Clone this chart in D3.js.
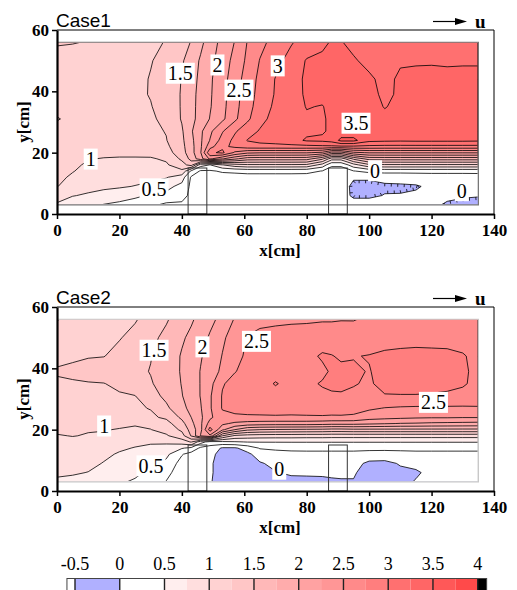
<!DOCTYPE html>
<html>
<head>
<meta charset="utf-8">
<script src="https://cdn.jsdelivr.net/npm/d3@7"></script>
<style>
  body { margin: 0; background: #fff; }
  svg { display: block; }
</style>
</head>
<body>
<svg id="chart" width="517" height="590"></svg>
<script>
// measurement grid (cm)
const xGrid = [0, 5, 10, 15, 20, 25, 30, 35, 40, 43, 46, 49, 53, 57, 61, 65, 70, 75, 80, 85, 88, 91, 95, 100, 105, 110, 115, 120, 125, 130, 135];
const yGrid = [56, 50, 44, 39, 35, 31, 27, 24, 22, 20, 18, 16, 14, 12, 9, 6, 3];

// u values, one row per yGrid entry
const case1Values = [
  [1.27,1.26,1.24,1.2,1.18,1.19,1.21,1.26,1.42,1.51,1.69,1.87,2.08,2.26,2.51,2.68,2.84,2.98,3.1,3.2,3.27,3.26,3.2,3.15,3.15,3.18,3.2,3.21,3.2,3.22,3.22],
  [1.17,1.16,1.16,1.16,1.17,1.19,1.24,1.31,1.47,1.62,1.78,1.93,2.12,2.33,2.55,2.76,2.93,3.08,3.27,3.3,3.32,3.3,3.27,3.2,3.18,3.23,3.23,3.23,3.22,3.23,3.23],
  [1.15,1.15,1.15,1.16,1.17,1.2,1.26,1.34,1.51,1.65,1.81,1.96,2.16,2.38,2.61,2.81,3.01,3.15,3.29,3.32,3.33,3.33,3.32,3.28,3.2,3.28,3.3,3.31,3.31,3.3,3.3],
  [1.15,1.15,1.15,1.16,1.18,1.21,1.26,1.35,1.52,1.68,1.82,1.97,2.17,2.4,2.64,2.83,3.02,3.16,3.28,3.31,3.33,3.34,3.34,3.31,3.21,3.28,3.32,3.33,3.33,3.33,3.32],
  [1.15,1.15,1.15,1.16,1.18,1.21,1.24,1.34,1.52,1.68,1.83,1.98,2.18,2.42,2.66,2.86,3.05,3.15,3.26,3.24,3.31,3.34,3.35,3.33,3.24,3.3,3.33,3.34,3.34,3.34,3.33],
  [1.27,1.18,1.16,1.16,1.17,1.19,1.22,1.3,1.52,1.68,1.84,2.01,2.2,2.45,2.7,2.93,3.08,3.15,3.22,3.22,3.3,3.34,3.35,3.34,3.3,3.32,3.34,3.34,3.34,3.34,3.34],
  [1.15,1.14,1.14,1.14,1.15,1.17,1.2,1.26,1.47,1.72,1.95,2.2,2.48,2.72,2.9,3.02,3.1,3.14,3.2,3.22,3.3,3.36,3.36,3.33,3.29,3.27,3.3,3.32,3.32,3.32,3.31],
  [1.14,1.13,1.13,1.12,1.13,1.15,1.17,1.24,1.45,1.68,1.96,2.26,2.6,2.82,3.01,3.06,3.1,3.16,3.28,3.3,3.35,3.56,3.56,3.32,3.3,3.29,3.3,3.3,3.3,3.3,3.29],
  [1.13,1.11,1.1,1.09,1.09,1.1,1.12,1.2,1.43,1.66,1.96,2.4,2.7,2.8,2.9,2.92,2.92,2.93,2.93,2.95,2.95,2.96,2.96,2.94,2.93,2.93,2.93,2.93,2.93,2.93,2.93],
  [1.12,1.09,1.06,1.05,1.05,1.05,1.06,1.14,1.4,1.65,1.98,2.7,2.8,2.45,2.3,2.27,2.27,2.27,2.27,2.2,1.9,1.9,2.2,2.27,2.27,2.27,2.27,2.27,2.27,2.27,2.27],
  [1.1,1.06,1.01,0.99,0.98,0.98,0.98,1.03,1.3,1.58,1.9,2.3,2.02,1.8,1.62,1.61,1.61,1.61,1.6,1.3,0.85,0.85,1.3,1.6,1.61,1.61,1.61,1.61,1.61,1.61,1.61],
  [1.08,1.04,0.97,0.96,0.95,0.94,0.94,0.97,1.15,1.35,0.6,0.49,0.74,0.9,0.96,0.96,0.96,0.96,0.95,0.65,0.3,0.3,0.65,0.95,0.96,0.96,0.96,0.96,0.96,0.96,0.96],
  [1.07,1.01,0.94,0.91,0.9,0.89,0.88,0.87,0.95,0.45,0.22,0.22,0.28,0.3,0.33,0.33,0.33,0.33,0.32,0.24,0.12,0.12,0.24,0.32,0.33,0.33,0.33,0.33,0.33,0.33,0.33],
  [1.05,0.97,0.9,0.87,0.86,0.84,0.8,0.77,0.62,0.22,0.18,0.16,0.15,0.15,0.15,0.15,0.15,0.15,0.15,0.14,0.12,0.12,0.03,0.04,0.08,0.08,0.1,0.12,0.12,0.12,0.13],
  [1.01,0.88,0.82,0.8,0.78,0.74,0.7,0.58,0.42,0.2,0.15,0.14,0.12,0.12,0.12,0.12,0.12,0.12,0.12,0.12,0.12,0.12,-0.06,-0.08,-0.04,-0.03,-0.02,0.04,0.08,0.08,0.08],
  [0.85,0.76,0.72,0.66,0.6,0.55,0.47,0.43,0.35,0.18,0.14,0.12,0.1,0.1,0.1,0.1,0.1,0.1,0.1,0.1,0.1,0.1,-0.04,-0.04,0.01,0.01,0.03,0.05,0.05,0.02,0.01],
  [0.72,0.62,0.55,0.49,0.45,0.38,0.3,0.2,0.2,0.15,0.12,0.1,0.08,0.08,0.08,0.08,0.08,0.08,0.08,0.08,0.08,0.08,0.1,0.1,0.08,0.06,0.05,0.05,-0.03,-0.05,-0.06]
];

const case2Values = [
  [0.99,1.05,1.1,1.14,1.19,1.235,1.32,1.47,1.65,1.72,1.82,1.93,2.08,2.27,2.42,2.45,2.46,2.47,2.47,2.48,2.48,2.49,2.49,2.53,2.55,2.56,2.57,2.57,2.57,2.57,2.57],
  [1.12,1.14,1.17,1.2,1.24,1.3,1.43,1.57,1.72,1.8,1.9,2.03,2.21,2.36,2.51,2.55,2.57,2.58,2.6,2.62,2.62,2.61,2.6,2.62,2.64,2.65,2.66,2.66,2.66,2.65,2.63],
  [1.2,1.22,1.24,1.245,1.3,1.38,1.49,1.61,1.77,1.85,1.98,2.09,2.26,2.43,2.54,2.6,2.62,2.64,2.68,2.78,2.76,2.72,2.74,2.76,2.8,2.82,2.83,2.82,2.81,2.77,2.68],
  [1.27,1.29,1.31,1.34,1.38,1.44,1.51,1.63,1.77,1.88,2.01,2.13,2.3,2.49,2.57,2.6,2.64,2.66,2.68,2.7,2.78,2.8,2.78,2.74,2.82,2.84,2.84,2.83,2.82,2.78,2.7],
  [1.22,1.23,1.24,1.245,1.29,1.38,1.48,1.6,1.76,1.87,2.01,2.17,2.48,2.58,2.61,2.64,2.77,2.66,2.7,2.77,2.78,2.79,2.76,2.73,2.8,2.82,2.82,2.82,2.8,2.77,2.7],
  [1.17,1.18,1.2,1.21,1.23,1.245,1.4,1.56,1.74,1.86,2.01,2.22,2.52,2.58,2.6,2.61,2.65,2.62,2.66,2.7,2.73,2.73,2.72,2.71,2.74,2.74,2.74,2.73,2.72,2.7,2.67],
  [1.12,1.14,1.16,1.18,1.2,1.22,1.26,1.45,1.68,1.82,1.98,2.22,2.52,2.56,2.57,2.58,2.6,2.58,2.6,2.62,2.62,2.63,2.6,2.54,2.49,2.47,2.46,2.46,2.46,2.46,2.47],
  [1.09,1.11,1.13,1.15,1.16,1.18,1.21,1.29,1.55,1.75,1.95,2.2,2.42,2.46,2.47,2.47,2.47,2.47,2.47,2.47,2.46,2.46,2.45,2.35,2.32,2.3,2.28,2.27,2.27,2.26,2.26],
  [1.06,1.07,1.07,1.06,1.04,1.02,1.05,1.16,1.42,1.68,1.95,2.35,2.3,2.2,2.15,2.13,2.12,2.12,2.12,2.1,2.08,2.08,2.08,2.05,2.02,1.99,1.98,1.96,1.95,1.94,1.93],
  [1.03,1.02,1.01,1.01,0.99,0.97,0.995,1.08,1.3,1.6,1.92,2.6,2.05,1.75,1.55,1.5,1.48,1.47,1.46,1.45,1.43,1.43,1.45,1.45,1.45,1.45,1.45,1.45,1.45,1.45,1.45],
  [0.99,1.005,0.99,0.97,0.93,0.9,0.92,0.97,1.15,1.52,2.02,2.2,1.25,0.95,0.9,0.88,0.87,0.87,0.86,0.86,0.85,0.85,0.85,0.85,0.85,0.85,0.85,0.85,0.85,0.85,0.85],
  [0.96,0.96,0.93,0.88,0.83,0.8,0.78,0.8,0.88,1.02,0.6,0.4,0.45,0.48,0.51,0.51,0.51,0.51,0.51,0.51,0.51,0.51,0.51,0.51,0.51,0.51,0.51,0.51,0.51,0.51,0.51],
  [0.93,0.92,0.9,0.85,0.78,0.74,0.7,0.65,0.52,0.45,0.2,0.15,-0.03,-0.03,0.1,0.27,0.3,0.32,0.32,0.32,0.32,0.32,0.32,0.32,0.32,0.32,0.32,0.32,0.32,0.32,0.32],
  [0.9,0.88,0.85,0.79,0.73,0.68,0.63,0.56,0.27,0.15,0.1,0.08,-0.1,-0.1,-0.05,0.1,0.15,0.17,0.18,0.18,0.18,0.18,0.18,0.15,0.14,0.16,0.18,0.18,0.18,0.18,0.18],
  [0.85,0.82,0.8,0.74,0.66,0.6,0.58,0.44,0.15,0.1,0.07,0.05,-0.15,-0.15,-0.1,-0.02,0.05,0.08,0.1,0.1,0.1,0.1,0.08,-0.05,-0.06,0.02,0.04,0.06,0.07,0.07,0.07],
  [0.8,0.77,0.745,0.7,0.6,0.55,0.45,0.33,0.1,0.08,0.06,0.05,-0.15,-0.15,-0.12,-0.08,-0.01,0.03,0.03,0.03,0.04,0.04,0.02,-0.08,-0.08,-0.05,-0.02,0.04,0.05,0.05,0.05],
  [0.7,0.7,0.68,0.62,0.53,0.47,0.38,0.24,0.08,0.06,0.05,0.03,-0.15,-0.15,-0.12,-0.1,-0.08,-0.06,-0.05,-0.04,-0.03,-0.02,-0.01,-0.08,-0.06,-0.04,0.01,0.05,0.05,0.05,0.05]
];

// contour levels
const fillLevels = [-0.5, 0, 0.5, 0.75, 1, 1.25, 1.5, 1.75, 2, 2.25, 2.5, 2.75, 3, 3.25, 3.5, 3.75, 4];
const lineLevels = [0, 0.25, 0.5, 0.75, 1, 1.25, 1.5, 1.75, 2, 2.25, 2.5, 2.75, 3, 3.25, 3.5, 3.75, 4];
const legendTicks = [-0.5, 0, 0.5, 1, 1.5, 2, 2.5, 3, 3.5, 4];
const xTicks = [0, 20, 40, 60, 80, 100, 120, 140];
const yTicks = [0, 20, 40, 60];

// obstacles: x from, x to, height
const blocks = [[42, 48, 15], [87, 93, 15]];

// contour labels [text, x, y]
const case1Labels = [
  ['1.5', 39.5, 45.9], ['2', 51.4, 48.6], ['2.5', 58.3, 40.4], ['3', 70.7, 48.3],
  ['3.5', 95.8, 29.6], ['1', 10.8, 17.9], ['0.5', 31.1, 8.2], ['0', 101.9, 14.1], ['0', 129.7, 7.6]
];
const case2Labels = [
  ['1.5', 31.1, 45.9], ['2', 46.6, 47], ['2.5', 63.9, 48.8], ['1', 15.1, 21.2],
  ['0.5', 30.1, 8.2], ['0', 71.2, 7.1], ['2.5', 120.6, 28.9]
];

// band colours, one per fill level (region above it)
const bandColors = ['#b0b0ff', '#ffffff', '#ffeeee', '#ffdede', '#ffd2d2', '#ffc6c6', '#ffb8b8', '#ffacac',
  '#ffa2a2', '#ff9696', '#ff8a8a', '#ff7e7e', '#ff7070', '#ff6666', '#ff5858', '#ff4a4a', '#000000'];

const svg = d3.select('#chart');
const serif = '"Liberation Serif", "Times New Roman", serif';
const sans = '"Liberation Sans", Arial, sans-serif';

const x = d3.scaleLinear([0, 140], [57, 494]);

// small ticks along the zero contour, pointing into the negative side
function drawHatches(g, contour, toPx, box) {
  const rings = contour.coordinates.flat().map(r => r.map(toPx));
  if (!rings.length) return;
  const s = Math.sign(d3.polygonArea(rings[0]));
  const onBorder = p => Math.abs(p[0] - box[0]) < 0.6 || Math.abs(p[0] - box[1]) < 0.6 ||
    Math.abs(p[1] - box[2]) < 0.6 || Math.abs(p[1] - box[3]) < 0.6;
  const step = 6.5, len = 3;
  let d = '';
  rings.forEach(ring => {
    let carry = step / 2;
    for (let i = 1; i < ring.length; i++) {
      const a = ring[i - 1], b = ring[i];
      if (onBorder(a) && onBorder(b)) continue;
      const dx = b[0] - a[0], dy = b[1] - a[1];
      const L = Math.hypot(dx, dy);
      if (!L) continue;
      const nx = -s * dy / L, ny = s * dx / L;
      let t = carry;
      while (t < L) {
        const px = a[0] + dx * t / L, py = a[1] + dy * t / L;
        d += `M${px},${py}l${nx * len},${ny * len}`;
        t += step;
      }
      carry = t - L;
    }
  });
  g.append('path').attr('d', d).attr('stroke', '#000').attr('stroke-width', 0.8).attr('fill', 'none');
}

function drawPanel(top, values, labels, title, id, borderColor, hatch) {
  const y = d3.scaleLinear([0, 60], [top + 184, top]);
  const g = svg.append('g');

  // grid index -> cm
  const ix = d3.scaleLinear(xGrid.map((_, i) => i + 0.5), xGrid).clamp(true);
  const iy = d3.scaleLinear(yGrid.map((_, i) => i + 0.5), yGrid).clamp(true);
  const toPx = p => [x(ix(p[0])), y(iy(p[1]))];
  const path = d3.geoPath(d3.geoTransform({
    point(px, py) { this.stream.point(x(ix(px)), y(iy(py))); }
  }));

  const flat = values.flat();
  const size = [xGrid.length, yGrid.length];
  const fills = d3.contours().size(size).thresholds(fillLevels)(flat);
  const lines = d3.contours().size(size).thresholds(lineLevels)(flat);

  const x0 = x(0), x1 = x(135), yTop = y(56), yBot = y(3);
  g.append('rect')
    .attr('x', x0).attr('y', yTop)
    .attr('width', x1 - x0).attr('height', yBot - yTop)
    .attr('fill', '#fff');

  g.append('g').selectAll('path')
    .data(fills)
    .join('path')
    .attr('d', path)
    .attr('fill', (d, i) => bandColors[i])
    .attr('stroke', 'none');

  svg.append('clipPath').attr('id', id)
    .append('rect')
    .attr('x', x0 + 0.8).attr('y', yTop + 0.8)
    .attr('width', x1 - x0 - 1.6).attr('height', yBot - yTop - 1.6);

  const lg = g.append('g').attr('clip-path', `url(#${id})`);
  lg.selectAll('path')
    .data(lines)
    .join('path')
    .attr('d', path)
    .attr('fill', 'none')
    .attr('stroke', '#000')
    .attr('stroke-width', 0.8)
    .attr('stroke-linejoin', 'round');
  if (hatch) drawHatches(lg, lines[0], toPx, [x0, x1, yTop, yBot]);

  // data region border
  g.append('path')
    .attr('d', `M${x(0)},${yTop}H${x1}V${yBot}H${x(0)}`)
    .attr('fill', 'none')
    .attr('stroke', borderColor)
    .attr('stroke-width', 1.2);

  // obstacles
  g.selectAll('.block')
    .data(blocks)
    .join('rect')
    .attr('class', 'block')
    .attr('x', d => x(d[0]))
    .attr('y', d => y(d[2]))
    .attr('width', d => x(d[1]) - x(d[0]))
    .attr('height', d => y(0) - y(d[2]))
    .attr('fill', 'none')
    .attr('stroke', '#333')
    .attr('stroke-width', 1);

  // contour labels
  const lab = g.append('g').selectAll('g')
    .data(labels)
    .join('g')
    .attr('transform', d => `translate(${x(d[1])},${y(d[2])})`);
  lab.append('text')
    .attr('text-anchor', 'middle')
    .attr('dy', '0.35em')
    .attr('font-family', serif)
    .attr('font-size', 20)
    .text(d => d[0]);
  lab.each(function () {
    const t = d3.select(this).select('text');
    const w = t.node().getComputedTextLength();
    d3.select(this).insert('rect', 'text')
      .attr('x', -w / 2 - 2).attr('y', -10.5)
      .attr('width', w + 4).attr('height', 21)
      .attr('fill', '#fff');
  });

  // frame
  g.append('path')
    .attr('d', `M${x(0)},${top}H${x(140)}V${y(0)}`)
    .attr('fill', 'none')
    .attr('stroke', '#000')
    .attr('stroke-width', 1);

  const xAxis = g.append('g')
    .attr('transform', `translate(0,${y(0)})`)
    .call(d3.axisBottom(x).tickValues(xTicks).tickSize(5).tickPadding(5).tickSizeOuter(0));
  const yAxis = g.append('g')
    .attr('transform', `translate(${x(0)},0)`)
    .call(d3.axisLeft(y).tickValues(yTicks).tickSize(5).tickPadding(3).tickSizeOuter(0));
  [xAxis, yAxis].forEach(a => {
    a.attr('font-family', serif).attr('font-size', 17).attr('font-weight', 'bold');
    a.select('.domain').attr('stroke-width', 2.2);
    a.selectAll('.tick line').attr('stroke-width', 1.5);
    a.selectAll('.tick text').attr('fill', '#000');
  });

  g.append('text')
    .attr('x', 280).attr('y', y(0) + 42)
    .attr('text-anchor', 'middle')
    .attr('font-family', serif).attr('font-weight', 'bold').attr('font-size', 17)
    .text('x[cm]');
  g.append('text')
    .attr('transform', `translate(29,${y(30)}) rotate(-90)`)
    .attr('text-anchor', 'middle')
    .attr('font-family', serif).attr('font-weight', 'bold').attr('font-size', 17)
    .text('y[cm]');

  g.append('text')
    .attr('x', 56).attr('y', top - 3.5)
    .attr('font-family', sans).attr('font-size', 19)
    .text(title);

  // flow direction arrow
  const ay = top - 8.5;
  g.append('line')
    .attr('x1', 433).attr('x2', 457).attr('y1', ay).attr('y2', ay)
    .attr('stroke', '#000').attr('stroke-width', 1.2);
  g.append('path')
    .attr('d', `M455,${ay - 3.5}L467,${ay}L455,${ay + 3.5}Z`)
    .attr('fill', '#000');
  g.append('text')
    .attr('x', 475).attr('y', top - 2)
    .attr('font-family', serif).attr('font-weight', 'bold').attr('font-size', 19)
    .text('u');
}

drawPanel(30, case1Values, case1Labels, 'Case1', 'clip1', '#777', true);
drawPanel(307, case2Values, case2Labels, 'Case2', 'clip2', '#c8c8c8', false);

// colour bar
const c = d3.scaleLinear([-0.5, 4], [75, 477.7]);
const bar = svg.append('g');
const barTop = 578.5, barH = 14;
const segs = [[-0.59, -0.5, '#ffffff']]
  .concat(fillLevels.slice(0, -1).map((v, i) => [v, fillLevels[i + 1], bandColors[i]]))
  .concat([[4, 4.1, '#000000']]);
bar.selectAll('rect')
  .data(segs)
  .join('rect')
  .attr('x', d => c(d[0]))
  .attr('y', barTop)
  .attr('width', d => c(d[1]) - c(d[0]))
  .attr('height', barH)
  .attr('fill', d => d[2]);
bar.selectAll('line')
  .data(legendTicks)
  .join('line')
  .attr('x1', d => c(d)).attr('x2', d => c(d))
  .attr('y1', barTop).attr('y2', barTop + barH)
  .attr('stroke', '#222').attr('stroke-width', 1.4);
bar.append('rect')
  .attr('x', c(-0.59)).attr('y', barTop)
  .attr('width', c(4.1) - c(-0.59)).attr('height', barH)
  .attr('fill', 'none').attr('stroke', '#444').attr('stroke-width', 1);
bar.selectAll('text')
  .data(legendTicks)
  .join('text')
  .attr('x', d => c(d))
  .attr('y', 570)
  .attr('text-anchor', 'middle')
  .attr('font-family', serif).attr('font-size', 18)
  .text(d => d);
</script>
</body>
</html>
